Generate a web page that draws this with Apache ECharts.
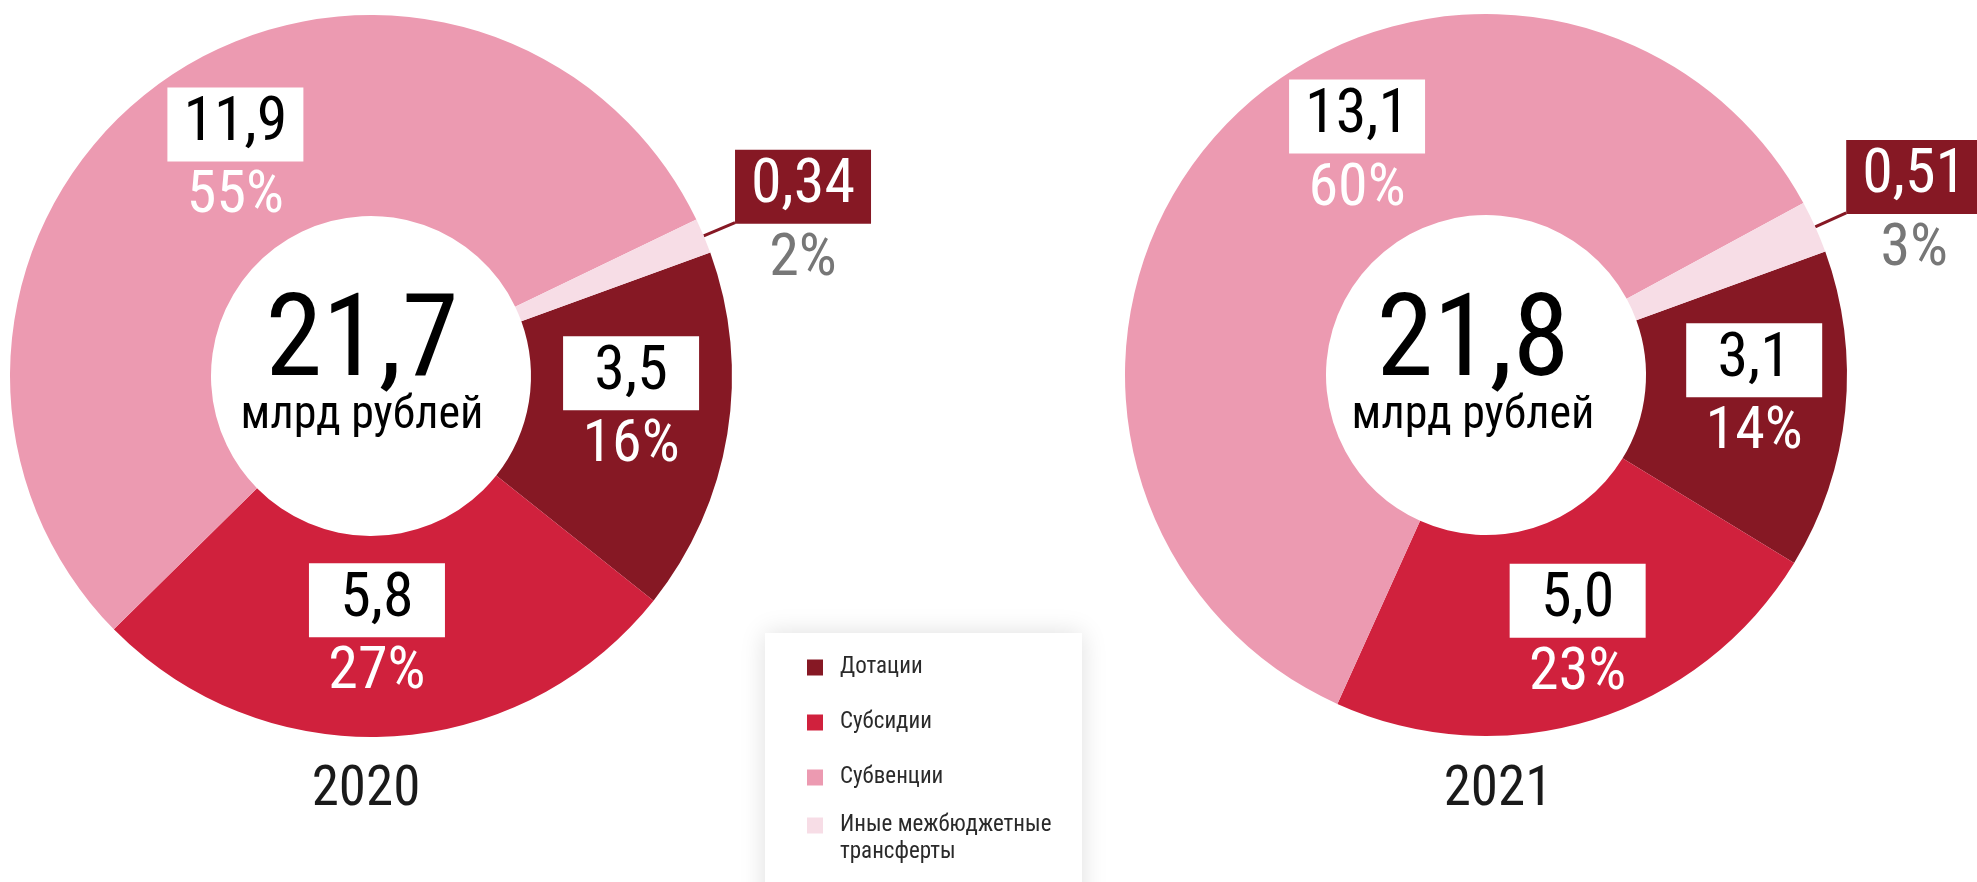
<!DOCTYPE html>
<html lang="ru">

<head>
  <meta charset="UTF-8">
  <script src="https://cdn.jsdelivr.net/npm/echarts@6/dist/echarts.min.js"></script>
  <title>Межбюджетные трансферты</title>
  <style>
    html,
    body,
    main {
      height: 100%;
      width: 100%;
      padding: 0;
      margin: 0;
      background: #fff;
    }
  </style>
</head>

<body>
  <main></main>
</body>
<script>
  const categories = ['Дотации', 'Субсидии', 'Субвенции', 'Иные межбюджетные трансферты']
  const colors = ['#861824', '#d0213d', '#ec9ab1', '#f7dde6']
  const years = ['2020', '2021']
  const totals = [21.7, 21.8]
  const values2020 = [3.5, 5.8, 11.9, 0.34]
  const values2021 = [3.1, 5.0, 13.1, 0.51]
  const shares2020 = [16, 27, 55, 2]
  const shares2021 = [14, 23, 60, 3]

  const FONT = "'Roboto Condensed', 'Liberation Sans Narrow', 'DejaVu Sans Condensed', Roboto, sans-serif"

  function num(v) {
    return (v < 1 ? v.toFixed(2) : v.toFixed(1)).replace('.', ',')
  }

  // small manual nudges of the inside labels, like in the original layout
  const labelShift = [
    [[0, -9], [-8, -3], [16, 0], [0, 0]],
    [[6, -5], [14, 10], [64, -43], [0, 0]]
  ]

  function makeSeries(idx, values, shares, center) {
    return {
      type: 'pie',
      name: years[idx],
      center: center,
      radius: [160, 361],
      startAngle: 20,
      clockwise: true,
      avoidLabelOverlap: false,
      silent: true,
      label: {
        show: true,
        position: 'inside',
        fontFamily: FONT,
        formatter: (p) => `{v|${num(p.value)}}\n{p|${shares[p.dataIndex]}%}`,
        rich: {
          v: {
            fontFamily: FONT,
            fontSize: 62,
            color: '#000',
            backgroundColor: '#fff',
            width: 136,
            height: 74,
            lineHeight: 74,
            align: 'center'
          },
          p: {
            fontFamily: FONT,
            fontSize: 60,
            color: '#fff',
            lineHeight: 72,
            align: 'center'
          }
        }
      },
      labelLine: { show: false },
      data: values.map((v, i) => {
        const item = {
          name: categories[i],
          value: v,
          itemStyle: { color: colors[i] },
          label: { offset: labelShift[idx][i] }
        }
        if (i === 3) {
          item.label = {
            position: 'outside',
            distanceToLabelLine: 0,
            rich: {
              v: {
                fontFamily: FONT,
                fontSize: 62,
                color: '#fff',
                backgroundColor: colors[0],
                width: 136,
                height: 74,
                lineHeight: 74,
                align: 'center'
              },
              p: {
                fontFamily: FONT,
                fontSize: 60,
                color: '#777',
                lineHeight: 72,
                align: 'center'
              }
            }
          }
          item.labelLine = {
            show: true,
            length: 34,
            length2: 0,
            lineStyle: { color: colors[0], width: 3 }
          }
        }
        return item
      })
    }
  }

  const centerTitle = (i, left) => ({
    text: num(totals[i]),
    subtext: 'млрд рублей',
    left: left,
    top: 289,
    textAlign: 'center',
    padding: 0,
    itemGap: -11,
    textStyle: { fontFamily: FONT, fontSize: 115, fontWeight: 'normal', color: '#000' },
    subtextStyle: { fontFamily: FONT, fontSize: 46, color: '#000' }
  })

  const yearTitle = (i, left) => ({
    text: years[i],
    left: left,
    top: 764,
    textAlign: 'center',
    padding: 0,
    textStyle: { fontFamily: FONT, fontSize: 55, fontWeight: 'normal', color: '#1a1a1a' }
  })

  const legendBase = {
    orient: 'vertical',
    left: 807,
    height: 320,
    padding: 0,
    itemWidth: 16,
    itemHeight: 16,
    itemGap: 28,
    icon: 'rect',
    selectedMode: false,
    textStyle: {
      fontFamily: FONT,
      fontSize: 23,
      color: '#2a2a2a',
      lineHeight: 27,
      padding: [0, 0, 0, 12]
    }
  }

  const option = {
    backgroundColor: '#fff',
    animation: false,
    title: [
      centerTitle(0, 362),
      centerTitle(1, 1473),
      yearTitle(0, 366),
      yearTitle(1, 1498)
    ],
    graphic: [
      {
        type: 'rect',
        left: 765,
        top: 633,
        shape: { width: 317, height: 300 },
        style: {
          fill: '#fff',
          shadowBlur: 24,
          shadowColor: 'rgba(0,0,0,0.13)'
        }
      }
    ],
    legend: [
      Object.assign({}, legendBase, {
        top: 654,
        data: categories.slice(0, 3)
      }),
      // the two-line item: an empty first line keeps the icon next to the first text line
      Object.assign({}, legendBase, {
        top: 785,
        formatter: (name) => '\n' + name.replace(' трансферты', '\nтрансферты'),
        data: categories.slice(3)
      })
    ],
    series: [
      makeSeries(0, values2020, shares2020, [371, 376]),
      makeSeries(1, values2021, shares2021, [1486, 375])
    ]
  }

  const ins = echarts.init(document.getElementsByTagName('main')[0])
  ins.setOption(option)
</script>

</html>
